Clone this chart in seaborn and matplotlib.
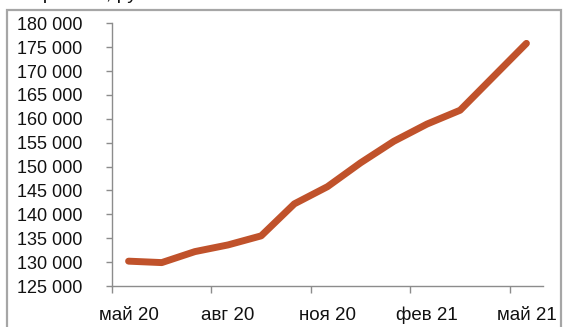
import matplotlib
matplotlib.use("Agg")
import matplotlib.pyplot as plt
from matplotlib.patches import Rectangle
import seaborn as sns
import pandas as pd

# Monthly series, May 2020 – May 2021
months = ["май 20", "июн 20", "июл 20", "авг 20", "сен 20", "окт 20", "ноя 20",
          "дек 20", "янв 21", "фев 21", "мар 21", "апр 21", "май 21"]
values = [130200, 129900, 132200, 133600, 135500, 142200, 145800,
          150800, 155300, 158900, 161800, 168800, 175800]
tick_labels = ["май 20", "авг 20", "ноя 20", "фев 21", "май 21"]
y_ticks = list(range(125000, 180001, 5000))

df = pd.DataFrame({"idx": range(len(months)), "value": values})

sns.set_theme(style="white")
plt.rcParams["font.family"] = ["Liberation Sans", "DejaVu Sans"]

W, H = 563, 327
fig = plt.figure(figsize=(W / 100, H / 100), dpi=100)
ax = fig.add_axes([112 / W, 1 - 286 / H, (543 - 112) / W, (286 - 23.3) / H])

sns.lineplot(data=df, x="idx", y="value", ax=ax, color="#C0522B",
             linewidth=5.0, solid_capstyle="round", solid_joinstyle="round")

ax.set_xlim(-0.5, len(months) - 0.5)
ax.set_ylim(125000, 180000)
# tick marks sit on quarter boundaries, labels on the month centres
ax.set_xticks([-0.5, 2.5, 5.5, 8.5, 11.5], minor=True)
ax.set_xticks([0, 3, 6, 9, 12])
ax.set_xticklabels(tick_labels)
ax.set_yticks(y_ticks)
ax.set_yticklabels([f"{v // 1000} 000" for v in y_ticks])
ax.set_xlabel("")
ax.set_ylabel("")

for side in ("top", "right"):
    ax.spines[side].set_visible(False)
for side in ("left", "bottom"):
    ax.spines[side].set_color("#8c8c8c")
    ax.spines[side].set_linewidth(1.0)

ax.tick_params(axis="y", direction="out", length=4.5, width=1.0, color="#8c8c8c",
               pad=17, labelsize=13, labelcolor="#111111", left=True)
ax.tick_params(axis="x", which="major", length=0, pad=15,
               labelsize=13.5, labelcolor="#111111")
ax.tick_params(axis="x", which="minor", direction="out", length=5, width=1.0,
               color="#8c8c8c", bottom=True)

# Chart frame
fig.patches.append(Rectangle((7 / W, -0.05), (561 - 7) / W, 1.05 - 10 / H,
                             transform=fig.transFigure, fill=False,
                             edgecolor="#a6a6a6", linewidth=1.6))

# Title above the frame, mostly outside the image
fig.text(20 / W, 1 + 1 / H, "Зарплата, рублей", fontsize=14, color="#111111",
         ha="left", va="baseline")

fig.savefig("out.png", dpi=100)
